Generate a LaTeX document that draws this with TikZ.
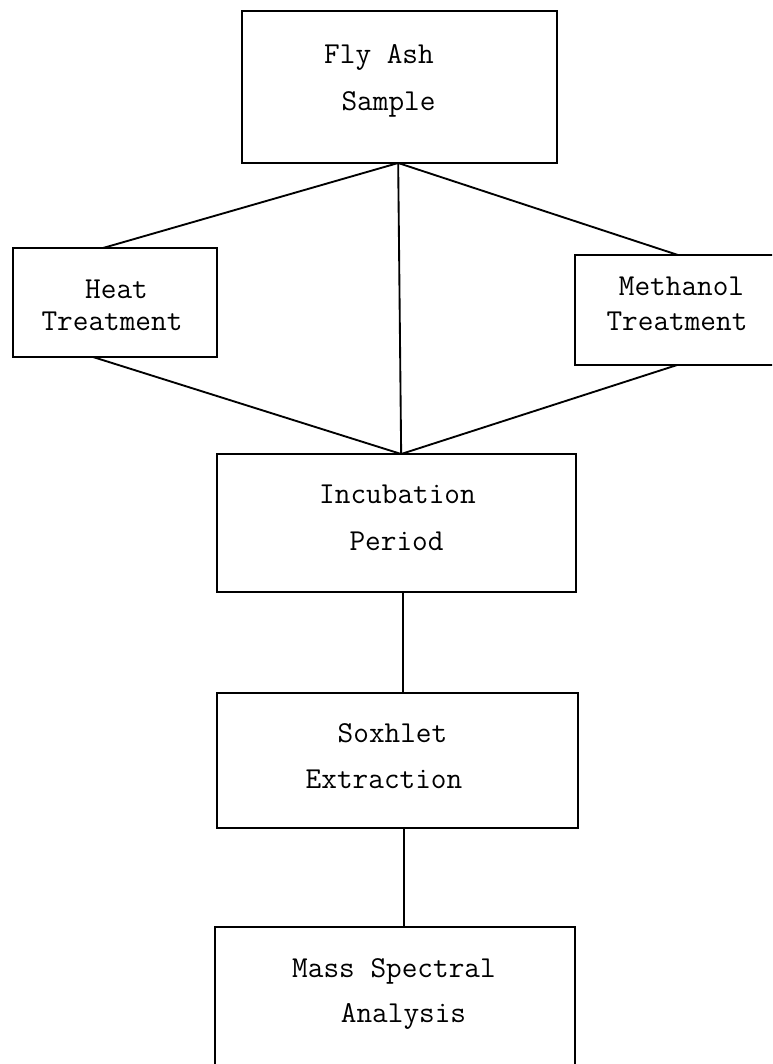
\documentclass[tikz,border=0pt]{standalone}
\usetikzlibrary{calc}
\begin{document}
\begin{tikzpicture}[x=0.75pt,y=-0.75pt,
  box/.style={draw,rectangle,line width=1.6pt,inner sep=0pt,outer sep=0pt},
  lbl/.style={anchor=base,inner sep=0pt,font=\fontsize{22.8}{24}\selectfont\ttfamily},
  conn/.style={line width=1.4pt}]
\useasboundingbox (0,0) rectangle (772,1064);
\clip (0,0) rectangle (772,1064);
% boxes
\node[box,minimum width=236.25pt,minimum height=114pt] (fly) at (399.5,87) {};
\node[box,minimum width=153pt,minimum height=81.75pt] (heat) at (115,302.5) {};
\node[box,minimum width=161.25pt,minimum height=82.5pt] (meth) at (682.5,310) {};
\node[box,minimum width=269.25pt,minimum height=103.5pt] (inc) at (396.5,523) {};
\node[box,minimum width=270.75pt,minimum height=101.25pt] (sox) at (397.5,760.5) {};
\node[box,minimum width=270pt,minimum height=129.75pt] (mass) at (395,1013.5) {};
% labels
\node[lbl] (t1) at (379,63) {Fly Ash};
\node[lbl] (t2) at (388.5,110) {Sample};
\node[lbl] (t3) at (116.5,298) {Heat};
\node[lbl] (t4) at (112,330) {Treatment};
\node[lbl] (t5) at (681.5,295) {Methanol};
\node[lbl] (t6) at (677,330) {Treatment};
\node[lbl] (t7) at (397.5,503) {Incubation};
\node[lbl] (t8) at (396.5,550) {Period};
\node[lbl] (t9) at (392.5,742) {Soxhlet};
\node[lbl] (t10) at (384,788) {Extraction};
\node[lbl] (t11) at (394,977) {Mass Spectral};
\node[lbl] (t12) at (403.5,1022) {Analysis};
% connectors
\draw[conn] ([xshift=-1pt]fly.south) -- ([xshift=-9pt]heat.north);
\draw[conn] ([xshift=-1pt]fly.south) -- ([xshift=-3.4pt]meth.north);
\draw[conn] ([xshift=-1pt]fly.south) -- ([xshift=3.5pt]inc.north);
\draw[conn] ([xshift=-16.5pt]heat.south) -- ([xshift=3.5pt]inc.north);
\draw[conn] ([xshift=-4pt]meth.south) -- ([xshift=3.5pt]inc.north);
\draw[conn] ([xshift=5pt]inc.south) -- ([xshift=5pt]inc.south |- sox.north);
\draw[conn] ([xshift=4.9pt]sox.south) -- ([xshift=4.9pt]sox.south |- mass.north);
\end{tikzpicture}
\end{document}
